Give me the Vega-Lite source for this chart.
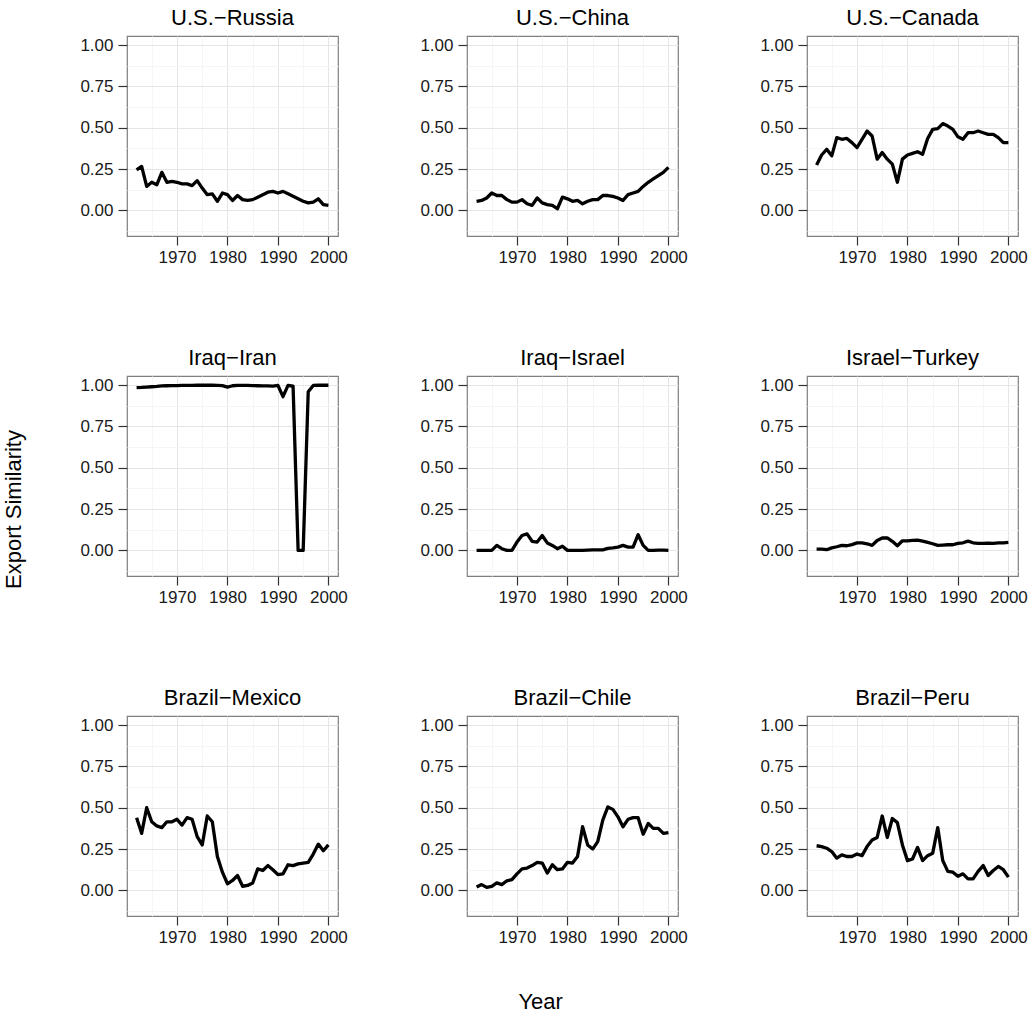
{
  "$schema": "https://vega.github.io/schema/vega-lite/v6.json",
  "background": "white",
  "padding": {"left": 3, "top": 6, "right": 5, "bottom": 5},
  "config": {
    "font": "Liberation Sans",
    "view": {"stroke": "#7f7f7f", "strokeWidth": 1.2},
    "axis": {"labelFont": "Liberation Sans"}
  },
  "title": {"text": "Export Similarity", "orient": "left", "fontSize": 22, "fontWeight": "normal", "font": "Liberation Sans", "color": "black", "anchor": "middle", "offset": 53},
  "hconcat": [
    {
      "title": {"text": "Year", "orient": "bottom", "fontSize": 22, "fontWeight": "normal", "font": "Liberation Sans", "color": "black", "anchor": "middle", "offset": 46, "dx": -13},
      "data": {"values": [
        {"pair":"U.S.−Russia","year":1962,"value":0.245},{"pair":"U.S.−Russia","year":1963,"value":0.266},{"pair":"U.S.−Russia","year":1964,"value":0.145},{"pair":"U.S.−Russia","year":1965,"value":0.17},{"pair":"U.S.−Russia","year":1966,"value":0.155},{"pair":"U.S.−Russia","year":1967,"value":0.23},{"pair":"U.S.−Russia","year":1968,"value":0.17},{"pair":"U.S.−Russia","year":1969,"value":0.175},{"pair":"U.S.−Russia","year":1970,"value":0.17},{"pair":"U.S.−Russia","year":1971,"value":0.16},{"pair":"U.S.−Russia","year":1972,"value":0.16},{"pair":"U.S.−Russia","year":1973,"value":0.15},{"pair":"U.S.−Russia","year":1974,"value":0.18},{"pair":"U.S.−Russia","year":1975,"value":0.135},{"pair":"U.S.−Russia","year":1976,"value":0.095},{"pair":"U.S.−Russia","year":1977,"value":0.1},{"pair":"U.S.−Russia","year":1978,"value":0.055},{"pair":"U.S.−Russia","year":1979,"value":0.105},{"pair":"U.S.−Russia","year":1980,"value":0.095},{"pair":"U.S.−Russia","year":1981,"value":0.06},{"pair":"U.S.−Russia","year":1982,"value":0.09},{"pair":"U.S.−Russia","year":1983,"value":0.065},{"pair":"U.S.−Russia","year":1984,"value":0.06},{"pair":"U.S.−Russia","year":1985,"value":0.065},{"pair":"U.S.−Russia","year":1986,"value":0.08},{"pair":"U.S.−Russia","year":1987,"value":0.095},{"pair":"U.S.−Russia","year":1988,"value":0.11},{"pair":"U.S.−Russia","year":1989,"value":0.115},{"pair":"U.S.−Russia","year":1990,"value":0.105},{"pair":"U.S.−Russia","year":1991,"value":0.115},{"pair":"U.S.−Russia","year":1992,"value":0.1},{"pair":"U.S.−Russia","year":1993,"value":0.085},{"pair":"U.S.−Russia","year":1994,"value":0.07},{"pair":"U.S.−Russia","year":1995,"value":0.055},{"pair":"U.S.−Russia","year":1996,"value":0.045},{"pair":"U.S.−Russia","year":1997,"value":0.05},{"pair":"U.S.−Russia","year":1998,"value":0.07},{"pair":"U.S.−Russia","year":1999,"value":0.035},{"pair":"U.S.−Russia","year":2000,"value":0.03},
        {"pair":"U.S.−China","year":1962,"value":0.055},{"pair":"U.S.−China","year":1963,"value":0.06},{"pair":"U.S.−China","year":1964,"value":0.075},{"pair":"U.S.−China","year":1965,"value":0.105},{"pair":"U.S.−China","year":1966,"value":0.09},{"pair":"U.S.−China","year":1967,"value":0.09},{"pair":"U.S.−China","year":1968,"value":0.065},{"pair":"U.S.−China","year":1969,"value":0.05},{"pair":"U.S.−China","year":1970,"value":0.05},{"pair":"U.S.−China","year":1971,"value":0.065},{"pair":"U.S.−China","year":1972,"value":0.04},{"pair":"U.S.−China","year":1973,"value":0.03},{"pair":"U.S.−China","year":1974,"value":0.075},{"pair":"U.S.−China","year":1975,"value":0.045},{"pair":"U.S.−China","year":1976,"value":0.035},{"pair":"U.S.−China","year":1977,"value":0.03},{"pair":"U.S.−China","year":1978,"value":0.01},{"pair":"U.S.−China","year":1979,"value":0.08},{"pair":"U.S.−China","year":1980,"value":0.07},{"pair":"U.S.−China","year":1981,"value":0.055},{"pair":"U.S.−China","year":1982,"value":0.06},{"pair":"U.S.−China","year":1983,"value":0.04},{"pair":"U.S.−China","year":1984,"value":0.055},{"pair":"U.S.−China","year":1985,"value":0.065},{"pair":"U.S.−China","year":1986,"value":0.065},{"pair":"U.S.−China","year":1987,"value":0.09},{"pair":"U.S.−China","year":1988,"value":0.09},{"pair":"U.S.−China","year":1989,"value":0.085},{"pair":"U.S.−China","year":1990,"value":0.075},{"pair":"U.S.−China","year":1991,"value":0.06},{"pair":"U.S.−China","year":1992,"value":0.095},{"pair":"U.S.−China","year":1993,"value":0.105},{"pair":"U.S.−China","year":1994,"value":0.115},{"pair":"U.S.−China","year":1995,"value":0.145},{"pair":"U.S.−China","year":1996,"value":0.17},{"pair":"U.S.−China","year":1997,"value":0.19},{"pair":"U.S.−China","year":1998,"value":0.21},{"pair":"U.S.−China","year":1999,"value":0.23},{"pair":"U.S.−China","year":2000,"value":0.26},
        {"pair":"U.S.−Canada","year":1962,"value":0.275},{"pair":"U.S.−Canada","year":1963,"value":0.335},{"pair":"U.S.−Canada","year":1964,"value":0.37},{"pair":"U.S.−Canada","year":1965,"value":0.33},{"pair":"U.S.−Canada","year":1966,"value":0.44},{"pair":"U.S.−Canada","year":1967,"value":0.43},{"pair":"U.S.−Canada","year":1968,"value":0.435},{"pair":"U.S.−Canada","year":1969,"value":0.41},{"pair":"U.S.−Canada","year":1970,"value":0.38},{"pair":"U.S.−Canada","year":1971,"value":0.43},{"pair":"U.S.−Canada","year":1972,"value":0.48},{"pair":"U.S.−Canada","year":1973,"value":0.45},{"pair":"U.S.−Canada","year":1974,"value":0.31},{"pair":"U.S.−Canada","year":1975,"value":0.35},{"pair":"U.S.−Canada","year":1976,"value":0.31},{"pair":"U.S.−Canada","year":1977,"value":0.28},{"pair":"U.S.−Canada","year":1978,"value":0.17},{"pair":"U.S.−Canada","year":1979,"value":0.31},{"pair":"U.S.−Canada","year":1980,"value":0.335},{"pair":"U.S.−Canada","year":1981,"value":0.345},{"pair":"U.S.−Canada","year":1982,"value":0.355},{"pair":"U.S.−Canada","year":1983,"value":0.34},{"pair":"U.S.−Canada","year":1984,"value":0.435},{"pair":"U.S.−Canada","year":1985,"value":0.49},{"pair":"U.S.−Canada","year":1986,"value":0.495},{"pair":"U.S.−Canada","year":1987,"value":0.525},{"pair":"U.S.−Canada","year":1988,"value":0.51},{"pair":"U.S.−Canada","year":1989,"value":0.49},{"pair":"U.S.−Canada","year":1990,"value":0.445},{"pair":"U.S.−Canada","year":1991,"value":0.43},{"pair":"U.S.−Canada","year":1992,"value":0.47},{"pair":"U.S.−Canada","year":1993,"value":0.47},{"pair":"U.S.−Canada","year":1994,"value":0.48},{"pair":"U.S.−Canada","year":1995,"value":0.47},{"pair":"U.S.−Canada","year":1996,"value":0.46},{"pair":"U.S.−Canada","year":1997,"value":0.46},{"pair":"U.S.−Canada","year":1998,"value":0.44},{"pair":"U.S.−Canada","year":1999,"value":0.41},{"pair":"U.S.−Canada","year":2000,"value":0.41},
        {"pair":"Iraq−Iran","year":1962,"value":0.985},{"pair":"Iraq−Iran","year":1963,"value":0.986},{"pair":"Iraq−Iran","year":1964,"value":0.988},{"pair":"Iraq−Iran","year":1965,"value":0.99},{"pair":"Iraq−Iran","year":1966,"value":0.992},{"pair":"Iraq−Iran","year":1967,"value":0.995},{"pair":"Iraq−Iran","year":1968,"value":0.996},{"pair":"Iraq−Iran","year":1969,"value":0.997},{"pair":"Iraq−Iran","year":1970,"value":0.997},{"pair":"Iraq−Iran","year":1971,"value":0.998},{"pair":"Iraq−Iran","year":1972,"value":0.998},{"pair":"Iraq−Iran","year":1973,"value":0.998},{"pair":"Iraq−Iran","year":1974,"value":0.999},{"pair":"Iraq−Iran","year":1975,"value":0.999},{"pair":"Iraq−Iran","year":1976,"value":0.999},{"pair":"Iraq−Iran","year":1977,"value":0.999},{"pair":"Iraq−Iran","year":1978,"value":0.998},{"pair":"Iraq−Iran","year":1979,"value":0.997},{"pair":"Iraq−Iran","year":1980,"value":0.988},{"pair":"Iraq−Iran","year":1981,"value":0.996},{"pair":"Iraq−Iran","year":1982,"value":0.998},{"pair":"Iraq−Iran","year":1983,"value":0.998},{"pair":"Iraq−Iran","year":1984,"value":0.998},{"pair":"Iraq−Iran","year":1985,"value":0.997},{"pair":"Iraq−Iran","year":1986,"value":0.996},{"pair":"Iraq−Iran","year":1987,"value":0.995},{"pair":"Iraq−Iran","year":1988,"value":0.995},{"pair":"Iraq−Iran","year":1989,"value":0.994},{"pair":"Iraq−Iran","year":1990,"value":0.998},{"pair":"Iraq−Iran","year":1991,"value":0.93},{"pair":"Iraq−Iran","year":1992,"value":0.998},{"pair":"Iraq−Iran","year":1993,"value":0.993},{"pair":"Iraq−Iran","year":1994,"value":0.0},{"pair":"Iraq−Iran","year":1995,"value":0.0},{"pair":"Iraq−Iran","year":1996,"value":0.96},{"pair":"Iraq−Iran","year":1997,"value":0.998},{"pair":"Iraq−Iran","year":1998,"value":0.999},{"pair":"Iraq−Iran","year":1999,"value":0.999},{"pair":"Iraq−Iran","year":2000,"value":0.999},
        {"pair":"Iraq−Israel","year":1962,"value":0.0},{"pair":"Iraq−Israel","year":1963,"value":0.0},{"pair":"Iraq−Israel","year":1964,"value":0.0},{"pair":"Iraq−Israel","year":1965,"value":0.0},{"pair":"Iraq−Israel","year":1966,"value":0.03},{"pair":"Iraq−Israel","year":1967,"value":0.01},{"pair":"Iraq−Israel","year":1968,"value":0.0},{"pair":"Iraq−Israel","year":1969,"value":0.0},{"pair":"Iraq−Israel","year":1970,"value":0.05},{"pair":"Iraq−Israel","year":1971,"value":0.09},{"pair":"Iraq−Israel","year":1972,"value":0.1},{"pair":"Iraq−Israel","year":1973,"value":0.055},{"pair":"Iraq−Israel","year":1974,"value":0.05},{"pair":"Iraq−Israel","year":1975,"value":0.09},{"pair":"Iraq−Israel","year":1976,"value":0.045},{"pair":"Iraq−Israel","year":1977,"value":0.03},{"pair":"Iraq−Israel","year":1978,"value":0.01},{"pair":"Iraq−Israel","year":1979,"value":0.025},{"pair":"Iraq−Israel","year":1980,"value":0.0},{"pair":"Iraq−Israel","year":1981,"value":0.0},{"pair":"Iraq−Israel","year":1982,"value":0.0},{"pair":"Iraq−Israel","year":1983,"value":0.0},{"pair":"Iraq−Israel","year":1984,"value":0.002},{"pair":"Iraq−Israel","year":1985,"value":0.003},{"pair":"Iraq−Israel","year":1986,"value":0.003},{"pair":"Iraq−Israel","year":1987,"value":0.003},{"pair":"Iraq−Israel","year":1988,"value":0.012},{"pair":"Iraq−Israel","year":1989,"value":0.015},{"pair":"Iraq−Israel","year":1990,"value":0.02},{"pair":"Iraq−Israel","year":1991,"value":0.03},{"pair":"Iraq−Israel","year":1992,"value":0.02},{"pair":"Iraq−Israel","year":1993,"value":0.02},{"pair":"Iraq−Israel","year":1994,"value":0.095},{"pair":"Iraq−Israel","year":1995,"value":0.03},{"pair":"Iraq−Israel","year":1996,"value":0.0},{"pair":"Iraq−Israel","year":1997,"value":0.0},{"pair":"Iraq−Israel","year":1998,"value":0.001},{"pair":"Iraq−Israel","year":1999,"value":0.001},{"pair":"Iraq−Israel","year":2000,"value":0.0},
        {"pair":"Israel−Turkey","year":1962,"value":0.008},{"pair":"Israel−Turkey","year":1963,"value":0.008},{"pair":"Israel−Turkey","year":1964,"value":0.004},{"pair":"Israel−Turkey","year":1965,"value":0.015},{"pair":"Israel−Turkey","year":1966,"value":0.022},{"pair":"Israel−Turkey","year":1967,"value":0.03},{"pair":"Israel−Turkey","year":1968,"value":0.028},{"pair":"Israel−Turkey","year":1969,"value":0.035},{"pair":"Israel−Turkey","year":1970,"value":0.045},{"pair":"Israel−Turkey","year":1971,"value":0.045},{"pair":"Israel−Turkey","year":1972,"value":0.04},{"pair":"Israel−Turkey","year":1973,"value":0.03},{"pair":"Israel−Turkey","year":1974,"value":0.06},{"pair":"Israel−Turkey","year":1975,"value":0.075},{"pair":"Israel−Turkey","year":1976,"value":0.075},{"pair":"Israel−Turkey","year":1977,"value":0.055},{"pair":"Israel−Turkey","year":1978,"value":0.028},{"pair":"Israel−Turkey","year":1979,"value":0.058},{"pair":"Israel−Turkey","year":1980,"value":0.058},{"pair":"Israel−Turkey","year":1981,"value":0.06},{"pair":"Israel−Turkey","year":1982,"value":0.062},{"pair":"Israel−Turkey","year":1983,"value":0.056},{"pair":"Israel−Turkey","year":1984,"value":0.048},{"pair":"Israel−Turkey","year":1985,"value":0.04},{"pair":"Israel−Turkey","year":1986,"value":0.03},{"pair":"Israel−Turkey","year":1987,"value":0.032},{"pair":"Israel−Turkey","year":1988,"value":0.034},{"pair":"Israel−Turkey","year":1989,"value":0.034},{"pair":"Israel−Turkey","year":1990,"value":0.042},{"pair":"Israel−Turkey","year":1991,"value":0.046},{"pair":"Israel−Turkey","year":1992,"value":0.056},{"pair":"Israel−Turkey","year":1993,"value":0.046},{"pair":"Israel−Turkey","year":1994,"value":0.042},{"pair":"Israel−Turkey","year":1995,"value":0.042},{"pair":"Israel−Turkey","year":1996,"value":0.044},{"pair":"Israel−Turkey","year":1997,"value":0.042},{"pair":"Israel−Turkey","year":1998,"value":0.046},{"pair":"Israel−Turkey","year":1999,"value":0.046},{"pair":"Israel−Turkey","year":2000,"value":0.048},
        {"pair":"Brazil−Mexico","year":1962,"value":0.44},{"pair":"Brazil−Mexico","year":1963,"value":0.345},{"pair":"Brazil−Mexico","year":1964,"value":0.5},{"pair":"Brazil−Mexico","year":1965,"value":0.415},{"pair":"Brazil−Mexico","year":1966,"value":0.39},{"pair":"Brazil−Mexico","year":1967,"value":0.38},{"pair":"Brazil−Mexico","year":1968,"value":0.415},{"pair":"Brazil−Mexico","year":1969,"value":0.415},{"pair":"Brazil−Mexico","year":1970,"value":0.43},{"pair":"Brazil−Mexico","year":1971,"value":0.395},{"pair":"Brazil−Mexico","year":1972,"value":0.44},{"pair":"Brazil−Mexico","year":1973,"value":0.43},{"pair":"Brazil−Mexico","year":1974,"value":0.325},{"pair":"Brazil−Mexico","year":1975,"value":0.275},{"pair":"Brazil−Mexico","year":1976,"value":0.45},{"pair":"Brazil−Mexico","year":1977,"value":0.415},{"pair":"Brazil−Mexico","year":1978,"value":0.205},{"pair":"Brazil−Mexico","year":1979,"value":0.11},{"pair":"Brazil−Mexico","year":1980,"value":0.04},{"pair":"Brazil−Mexico","year":1981,"value":0.06},{"pair":"Brazil−Mexico","year":1982,"value":0.09},{"pair":"Brazil−Mexico","year":1983,"value":0.025},{"pair":"Brazil−Mexico","year":1984,"value":0.03},{"pair":"Brazil−Mexico","year":1985,"value":0.045},{"pair":"Brazil−Mexico","year":1986,"value":0.13},{"pair":"Brazil−Mexico","year":1987,"value":0.12},{"pair":"Brazil−Mexico","year":1988,"value":0.15},{"pair":"Brazil−Mexico","year":1989,"value":0.125},{"pair":"Brazil−Mexico","year":1990,"value":0.095},{"pair":"Brazil−Mexico","year":1991,"value":0.1},{"pair":"Brazil−Mexico","year":1992,"value":0.155},{"pair":"Brazil−Mexico","year":1993,"value":0.15},{"pair":"Brazil−Mexico","year":1994,"value":0.16},{"pair":"Brazil−Mexico","year":1995,"value":0.165},{"pair":"Brazil−Mexico","year":1996,"value":0.17},{"pair":"Brazil−Mexico","year":1997,"value":0.22},{"pair":"Brazil−Mexico","year":1998,"value":0.28},{"pair":"Brazil−Mexico","year":1999,"value":0.24},{"pair":"Brazil−Mexico","year":2000,"value":0.275},
        {"pair":"Brazil−Chile","year":1962,"value":0.02},{"pair":"Brazil−Chile","year":1963,"value":0.035},{"pair":"Brazil−Chile","year":1964,"value":0.018},{"pair":"Brazil−Chile","year":1965,"value":0.024},{"pair":"Brazil−Chile","year":1966,"value":0.045},{"pair":"Brazil−Chile","year":1967,"value":0.035},{"pair":"Brazil−Chile","year":1968,"value":0.058},{"pair":"Brazil−Chile","year":1969,"value":0.065},{"pair":"Brazil−Chile","year":1970,"value":0.1},{"pair":"Brazil−Chile","year":1971,"value":0.13},{"pair":"Brazil−Chile","year":1972,"value":0.135},{"pair":"Brazil−Chile","year":1973,"value":0.15},{"pair":"Brazil−Chile","year":1974,"value":0.17},{"pair":"Brazil−Chile","year":1975,"value":0.165},{"pair":"Brazil−Chile","year":1976,"value":0.105},{"pair":"Brazil−Chile","year":1977,"value":0.155},{"pair":"Brazil−Chile","year":1978,"value":0.125},{"pair":"Brazil−Chile","year":1979,"value":0.13},{"pair":"Brazil−Chile","year":1980,"value":0.17},{"pair":"Brazil−Chile","year":1981,"value":0.165},{"pair":"Brazil−Chile","year":1982,"value":0.205},{"pair":"Brazil−Chile","year":1983,"value":0.385},{"pair":"Brazil−Chile","year":1984,"value":0.275},{"pair":"Brazil−Chile","year":1985,"value":0.25},{"pair":"Brazil−Chile","year":1986,"value":0.295},{"pair":"Brazil−Chile","year":1987,"value":0.425},{"pair":"Brazil−Chile","year":1988,"value":0.505},{"pair":"Brazil−Chile","year":1989,"value":0.49},{"pair":"Brazil−Chile","year":1990,"value":0.445},{"pair":"Brazil−Chile","year":1991,"value":0.385},{"pair":"Brazil−Chile","year":1992,"value":0.43},{"pair":"Brazil−Chile","year":1993,"value":0.44},{"pair":"Brazil−Chile","year":1994,"value":0.44},{"pair":"Brazil−Chile","year":1995,"value":0.34},{"pair":"Brazil−Chile","year":1996,"value":0.405},{"pair":"Brazil−Chile","year":1997,"value":0.375},{"pair":"Brazil−Chile","year":1998,"value":0.375},{"pair":"Brazil−Chile","year":1999,"value":0.345},{"pair":"Brazil−Chile","year":2000,"value":0.35},
        {"pair":"Brazil−Peru","year":1962,"value":0.27},{"pair":"Brazil−Peru","year":1963,"value":0.265},{"pair":"Brazil−Peru","year":1964,"value":0.255},{"pair":"Brazil−Peru","year":1965,"value":0.235},{"pair":"Brazil−Peru","year":1966,"value":0.195},{"pair":"Brazil−Peru","year":1967,"value":0.215},{"pair":"Brazil−Peru","year":1968,"value":0.205},{"pair":"Brazil−Peru","year":1969,"value":0.205},{"pair":"Brazil−Peru","year":1970,"value":0.22},{"pair":"Brazil−Peru","year":1971,"value":0.21},{"pair":"Brazil−Peru","year":1972,"value":0.265},{"pair":"Brazil−Peru","year":1973,"value":0.305},{"pair":"Brazil−Peru","year":1974,"value":0.32},{"pair":"Brazil−Peru","year":1975,"value":0.45},{"pair":"Brazil−Peru","year":1976,"value":0.32},{"pair":"Brazil−Peru","year":1977,"value":0.435},{"pair":"Brazil−Peru","year":1978,"value":0.41},{"pair":"Brazil−Peru","year":1979,"value":0.275},{"pair":"Brazil−Peru","year":1980,"value":0.18},{"pair":"Brazil−Peru","year":1981,"value":0.19},{"pair":"Brazil−Peru","year":1982,"value":0.26},{"pair":"Brazil−Peru","year":1983,"value":0.18},{"pair":"Brazil−Peru","year":1984,"value":0.21},{"pair":"Brazil−Peru","year":1985,"value":0.225},{"pair":"Brazil−Peru","year":1986,"value":0.38},{"pair":"Brazil−Peru","year":1987,"value":0.18},{"pair":"Brazil−Peru","year":1988,"value":0.115},{"pair":"Brazil−Peru","year":1989,"value":0.11},{"pair":"Brazil−Peru","year":1990,"value":0.085},{"pair":"Brazil−Peru","year":1991,"value":0.1},{"pair":"Brazil−Peru","year":1992,"value":0.07},{"pair":"Brazil−Peru","year":1993,"value":0.07},{"pair":"Brazil−Peru","year":1994,"value":0.115},{"pair":"Brazil−Peru","year":1995,"value":0.15},{"pair":"Brazil−Peru","year":1996,"value":0.09},{"pair":"Brazil−Peru","year":1997,"value":0.12},{"pair":"Brazil−Peru","year":1998,"value":0.145},{"pair":"Brazil−Peru","year":1999,"value":0.125},{"pair":"Brazil−Peru","year":2000,"value":0.08}
      ]},
      "columns": 3,
      "facet": {
        "field": "pair", "type": "nominal",
        "sort": ["U.S.−Russia","U.S.−China","U.S.−Canada","Iraq−Iran","Iraq−Israel","Israel−Turkey","Brazil−Mexico","Brazil−Chile","Brazil−Peru"],
        "header": {"title": null, "labelFontSize": 22, "labelFont": "Liberation Sans", "labelColor": "black", "labelPadding": -11, "labelBaseline": "alphabetic"}
      },
      "spacing": {"column": 129, "row": 140},
      "bounds": "flush",
      "resolve": {"axis": {"x": "independent", "y": "independent"}},
      "spec": {
        "width": 211,
        "height": 200,
        "resolve": {"axis": {"x": "independent", "y": "independent"}},
        "layer": [
          {
            "mark": {"type": "line", "opacity": 0},
            "encoding": {
              "x": {"field": "year", "type": "quantitative", "scale": {"domain": [1960.1, 2001.9], "nice": false, "zero": false},
                    "axis": {"orient": "bottom", "values": [1965, 1975, 1985, 1995], "title": null, "labels": false, "ticks": false, "domain": false, "grid": true, "gridColor": "#f5f5f5", "gridWidth": 1}},
              "y": {"field": "value", "type": "quantitative", "scale": {"domain": [-0.155, 1.055], "nice": false, "zero": false},
                    "axis": {"orient": "left", "values": [-0.125, 0.125, 0.375, 0.625, 0.875], "title": null, "labels": false, "ticks": false, "domain": false, "grid": true, "gridColor": "#f5f5f5", "gridWidth": 1}}
            }
          },
          {
            "mark": {"type": "line", "color": "black", "strokeWidth": 3.3, "strokeJoin": "round"},
            "encoding": {
              "x": {"field": "year", "type": "quantitative", "scale": {"domain": [1960.1, 2001.9], "nice": false, "zero": false},
                    "axis": {"orient": "bottom", "values": [1970, 1980, 1990, 2000], "format": "d", "title": null, "domain": false, "grid": true, "gridColor": "#e5e5e5", "gridWidth": 1, "tickColor": "#333333", "tickSize": 9, "tickWidth": 1.2, "labelFontSize": 17, "labelColor": "#1a1a1a", "labelPadding": 4, "labelFont": "Liberation Sans"}},
              "y": {"field": "value", "type": "quantitative", "scale": {"domain": [-0.155, 1.055], "nice": false, "zero": false},
                    "axis": {"orient": "left", "values": [0, 0.25, 0.5, 0.75, 1], "format": ".2f", "title": null, "domain": false, "grid": true, "gridColor": "#e5e5e5", "gridWidth": 1, "tickColor": "#333333", "tickSize": 9, "tickWidth": 1.2, "labelFontSize": 17, "labelColor": "#1a1a1a", "labelPadding": 5, "labelFont": "Liberation Sans"}}
            }
          }
        ]
      }
    }
  ]
}
